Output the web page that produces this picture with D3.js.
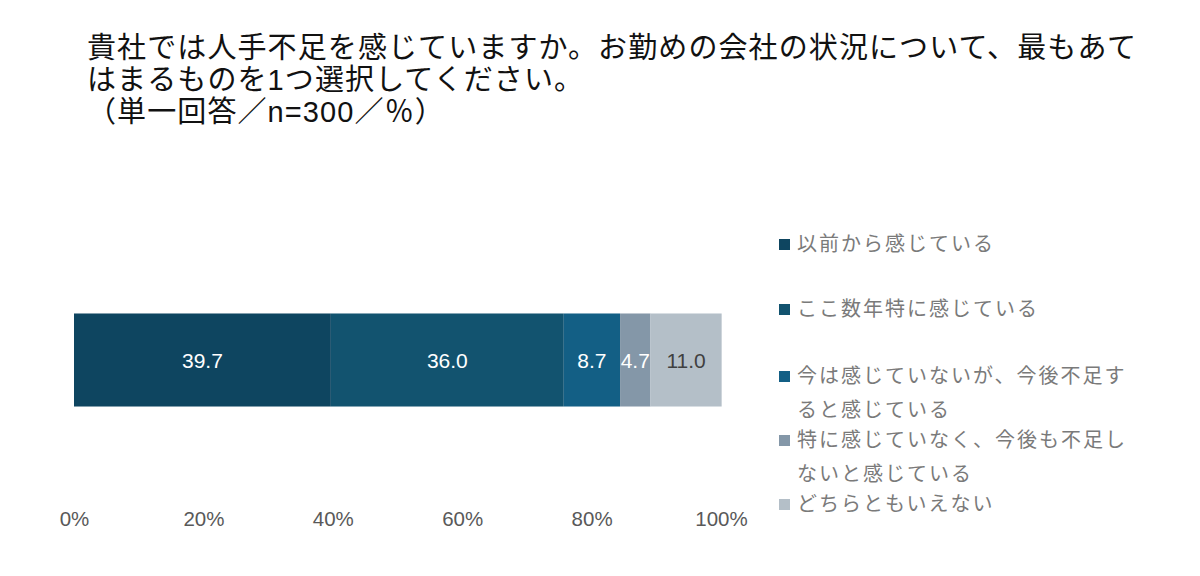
<!DOCTYPE html>
<html>
<head>
  <meta charset="utf-8">
  <title>人手不足</title>
  <style type="text/css">
    body { margin: 0; background: #fff; }
    svg { display: block; font-family: "Liberation Sans", "Noto Sans CJK JP", sans-serif; }
  </style>
</head>
<body>
<svg id="vis" width="1200" height="576"></svg>

<script src="https://cdnjs.cloudflare.com/ajax/libs/d3/7.8.5/d3.min.js"></script>
<script type="text/javascript">
  // data
  var categories = ['以前から感じている', 'ここ数年特に感じている', '今は感じていないが、今後不足すると感じている',
    '特に感じていなく、今後も不足しないと感じている', 'どちらともいえない']
  var values = [39.7, 36.0, 8.7, 4.7, 11.0]
  var legendLines = [['以前から感じている'], ['ここ数年特に感じている'], ['今は感じていないが、今後不足す', 'ると感じている'],
    ['特に感じていなく、今後も不足し', 'ないと感じている'], ['どちらともいえない']]
  var colors = ['#0e4560', '#12536f', '#135f85', '#8497a8', '#b4bfc8']
  var labelColors = ['#fff', '#fff', '#fff', '#fff', '#404040']
  var tickValues = [0, 20, 40, 60, 80, 100]
  var titleLines = ['貴社では人手不足を感じていますか。お勤めの会社の状況について、最もあて',
    'はまるものを1つ選択してください。', '（単一回答／n=300／％）']

  var svg = d3.select('#vis')

  // title
  svg.append('g').selectAll('text')
    .data(titleLines)
    .enter().append('text')
      .attr('x', 87)
      .attr('y', function(d, i) { return 58 + i * 32 })
      .attr('font-size', 29)
      .attr('letter-spacing', 1.1)
      .attr('fill', '#111')
      .text(function(d) { return d })

  var x = d3.scaleLinear().domain([0, 100]).range([74, 721])
  var y = d3.scaleBand().domain(['all']).range([300, 420]).paddingInner(0).paddingOuter(0.145)

  // stack the segments
  var acc = 0
  var segs = values.map(function(v, i) {
    var s = { i: i, x0: acc, x1: acc + v, v: v }
    acc += v
    return s
  })

  var bar = svg.append('g')
  bar.selectAll('rect')
    .data(segs)
    .enter().append('rect')
      .attr('x', function(d) { return x(d.x0) })
      .attr('width', function(d) { return x(d.x1) - x(d.x0) })
      .attr('y', y('all'))
      .attr('height', y.bandwidth())
      .attr('fill', function(d) { return colors[d.i] })

  bar.selectAll('text')
    .data(segs)
    .enter().append('text')
      .attr('x', function(d) { return (x(d.x0) + x(d.x1)) / 2 })
      .attr('y', y('all') + y.bandwidth() / 2)
      .attr('dy', '0.36em')
      .attr('text-anchor', 'middle')
      .attr('font-size', 21)
      .attr('fill', function(d) { return labelColors[d.i] })
      .text(function(d) { return d.v.toFixed(1) })

  // x axis, labels only
  var axis = svg.append('g')
    .attr('transform', 'translate(0,511)')
    .call(d3.axisBottom(x).tickValues(tickValues).tickSize(0).tickPadding(0)
      .tickFormat(function(d) { return d + '%' }))
  axis.select('.domain').remove()
  axis.selectAll('text')
    .attr('font-size', 20.5)
    .attr('font-family', '"Liberation Sans", sans-serif')
    .attr('fill', '#595959')

  // legend
  var legendY = [244, 309, 376, 440, 504]
  var legend = svg.append('g').selectAll('g')
    .data(legendLines)
    .enter().append('g')
      .attr('transform', function(d, i) { return 'translate(779,' + legendY[i] + ')' })

  legend.append('rect')
    .attr('x', 0)
    .attr('y', -5)
    .attr('width', 11)
    .attr('height', 11)
    .attr('fill', function(d, i) { return colors[i] })

  legend.selectAll('text')
    .data(function(d) { return d })
    .enter().append('text')
      .attr('x', 18)
      .attr('y', function(d, j) { return j * 34 })
      .attr('dy', '0.36em')
      .attr('font-size', 20)
      .attr('letter-spacing', 2)
      .attr('fill', '#7a7a7a')
      .text(function(d) { return d })
</script>
</body>
</html>
